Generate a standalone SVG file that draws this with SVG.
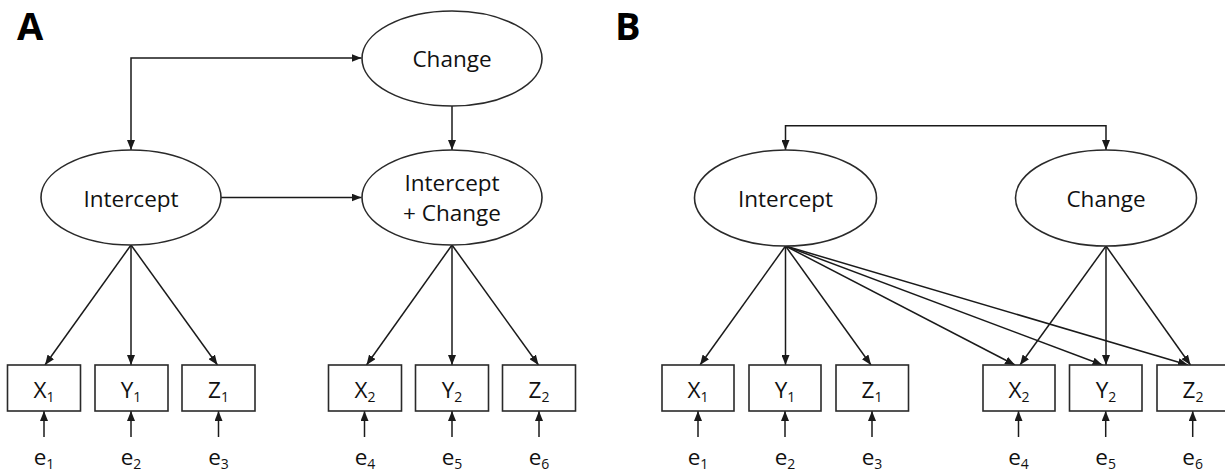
<svg xmlns="http://www.w3.org/2000/svg" width="1225" height="472" viewBox="0 0 1225 472">
<defs>
<marker id="ah" markerUnits="userSpaceOnUse" markerWidth="10" markerHeight="8" refX="10" refY="4" orient="auto-start-reverse">
<path d="M0,0 L10,4 L0,8 z" fill="#1a1a1a"/>
</marker>
</defs>
<style>
.el{fill:#fff;stroke:#2a2a2a;stroke-width:1.6}
.bx{fill:#fff;stroke:#2a2a2a;stroke-width:1.6}
.c{fill:none;stroke:#1a1a1a;stroke-width:1.5;marker-end:url(#ah)}
.c2{fill:none;stroke:#1a1a1a;stroke-width:1.5;marker-start:url(#ah);marker-end:url(#ah)}
.t{font-family:"Open Sans","Noto Sans",sans-serif;font-size:22.5px;fill:#111;text-anchor:middle}
.s{font-size:14px}
.p{font-family:"Open Sans","Noto Sans",sans-serif;font-size:38px;font-weight:bold;fill:#000}
</style>
<rect width="1225" height="472" fill="#fff"/>
<text class="p" x="17" y="40">A</text>
<text class="p" x="615" y="40">B</text>
<g id="connectors">
<path class="c2" d="M131,150 V58 H361.5"/>
<path class="c" d="M452,106 V150"/>
<path class="c" d="M221,197.5 H361.5"/>
<path class="c" d="M131,245 L45,365"/>
<path class="c" d="M131,245 V365"/>
<path class="c" d="M131,245 L217.5,365"/>
<path class="c" d="M452,245 L366.5,365"/>
<path class="c" d="M452,245 V365"/>
<path class="c" d="M452,245 L538.5,365"/>
<path class="c" d="M44,437 V411"/>
<path class="c" d="M131,437 V411"/>
<path class="c" d="M218.5,437 V411"/>
<path class="c" d="M364.5,437 V411"/>
<path class="c" d="M452,437 V411"/>
<path class="c" d="M539,437 V411"/>
<path class="c2" d="M785.5,150 V125.7 H1106 V150"/>
<path class="c" d="M785.5,246 L700,365"/>
<path class="c" d="M785.5,246 V365"/>
<path class="c" d="M785.5,246 L871,365"/>
<path class="c" d="M785.5,246 L1015,365"/>
<path class="c" d="M785.5,246 L1102.5,365"/>
<path class="c" d="M785.5,246 L1188,365"/>
<path class="c" d="M1106,246 L1020,365"/>
<path class="c" d="M1106,246 V365"/>
<path class="c" d="M1106,246 L1190.5,365"/>
<path class="c" d="M698,437 V411"/>
<path class="c" d="M785,437 V411"/>
<path class="c" d="M872,437 V411"/>
<path class="c" d="M1018.5,437 V411"/>
<path class="c" d="M1105.7,437 V411"/>
<path class="c" d="M1192.7,437 V411"/>
</g>
<g id="A-change"><ellipse class="el" cx="452" cy="58.5" rx="90" ry="47.5"/><text class="t" x="452" y="66.5">Change</text></g>
<g id="A-intercept"><ellipse class="el" cx="131" cy="197.5" rx="90" ry="47.5"/><text class="t" x="131" y="206.5">Intercept</text></g>
<g id="A-intercept-change"><ellipse class="el" cx="452" cy="197.5" rx="90" ry="47.5"/><text class="t" x="452" y="190.5">Intercept</text><text class="t" x="452" y="220.5">+ Change</text></g>
<g id="A-X1"><rect class="bx" x="7.5" y="365" width="73" height="46"/><text class="t" x="44" y="398">X<tspan class="s" dy="4">1</tspan></text></g>
<g id="A-Y1"><rect class="bx" x="95" y="365" width="73" height="46"/><text class="t" x="131" y="398">Y<tspan class="s" dy="4">1</tspan></text></g>
<g id="A-Z1"><rect class="bx" x="182" y="365" width="73" height="46"/><text class="t" x="218.5" y="398">Z<tspan class="s" dy="4">1</tspan></text></g>
<g id="A-X2"><rect class="bx" x="328.5" y="365" width="73" height="46"/><text class="t" x="365" y="398">X<tspan class="s" dy="4">2</tspan></text></g>
<g id="A-Y2"><rect class="bx" x="415.5" y="365" width="73" height="46"/><text class="t" x="452" y="398">Y<tspan class="s" dy="4">2</tspan></text></g>
<g id="A-Z2"><rect class="bx" x="502.5" y="365" width="73" height="46"/><text class="t" x="539" y="398">Z<tspan class="s" dy="4">2</tspan></text></g>
<g id="A-e1"><text class="t" x="44" y="465">e<tspan class="s" dy="4">1</tspan></text></g>
<g id="A-e2"><text class="t" x="131" y="465">e<tspan class="s" dy="4">2</tspan></text></g>
<g id="A-e3"><text class="t" x="218.5" y="465">e<tspan class="s" dy="4">3</tspan></text></g>
<g id="A-e4"><text class="t" x="365" y="465">e<tspan class="s" dy="4">4</tspan></text></g>
<g id="A-e5"><text class="t" x="452" y="465">e<tspan class="s" dy="4">5</tspan></text></g>
<g id="A-e6"><text class="t" x="539" y="465">e<tspan class="s" dy="4">6</tspan></text></g>
<g id="B-intercept"><ellipse class="el" cx="785.5" cy="198" rx="91" ry="48"/><text class="t" x="785.5" y="206.5">Intercept</text></g>
<g id="B-change"><ellipse class="el" cx="1106" cy="198" rx="90.5" ry="48"/><text class="t" x="1106" y="206.5">Change</text></g>
<g id="B-X1"><rect class="bx" x="662" y="365" width="72" height="46"/><text class="t" x="698" y="398">X<tspan class="s" dy="4">1</tspan></text></g>
<g id="B-Y1"><rect class="bx" x="749" y="365" width="72" height="46"/><text class="t" x="785" y="398">Y<tspan class="s" dy="4">1</tspan></text></g>
<g id="B-Z1"><rect class="bx" x="836" y="365" width="72.5" height="46"/><text class="t" x="872" y="398">Z<tspan class="s" dy="4">1</tspan></text></g>
<g id="B-X2"><rect class="bx" x="983" y="365" width="72" height="46"/><text class="t" x="1019" y="398">X<tspan class="s" dy="4">2</tspan></text></g>
<g id="B-Y2"><rect class="bx" x="1069.5" y="365" width="72.5" height="46"/><text class="t" x="1106" y="398">Y<tspan class="s" dy="4">2</tspan></text></g>
<g id="B-Z2"><rect class="bx" x="1157" y="365" width="73" height="46"/><text class="t" x="1193" y="398">Z<tspan class="s" dy="4">2</tspan></text></g>
<g id="B-e1"><text class="t" x="698" y="465">e<tspan class="s" dy="4">1</tspan></text></g>
<g id="B-e2"><text class="t" x="785" y="465">e<tspan class="s" dy="4">2</tspan></text></g>
<g id="B-e3"><text class="t" x="872" y="465">e<tspan class="s" dy="4">3</tspan></text></g>
<g id="B-e4"><text class="t" x="1018.5" y="465">e<tspan class="s" dy="4">4</tspan></text></g>
<g id="B-e5"><text class="t" x="1105.7" y="465">e<tspan class="s" dy="4">5</tspan></text></g>
<g id="B-e6"><text class="t" x="1192.7" y="465">e<tspan class="s" dy="4">6</tspan></text></g>
</svg>
